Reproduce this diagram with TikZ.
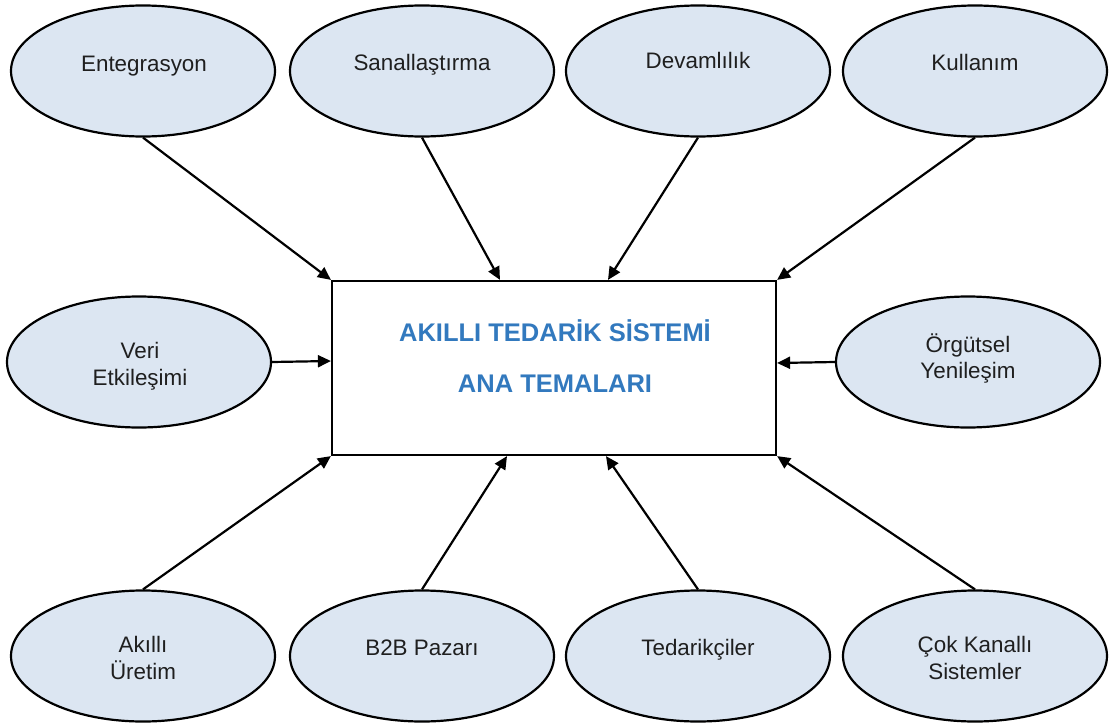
\documentclass[tikz,border=0pt]{standalone}
\usepackage{fontspec}
\setmainfont{Liberation Sans}
\usetikzlibrary{arrows.meta,shapes.geometric,calc}
\definecolor{ovalfill}{HTML}{DCE6F2}
\definecolor{titleblue}{HTML}{3279BE}
\begin{document}
\begin{tikzpicture}[x=1pt,y=-1pt,
  oval/.style={ellipse, draw=black, line width=2.2pt, fill=ovalfill, minimum width=264pt, minimum height=131pt, inner sep=0pt},
  lbl/.style={anchor=base, inner sep=0pt, font=\fontsize{22.4}{27}\selectfont, text=black!88},
  ttl/.style={anchor=base, inner sep=0pt, font=\bfseries\fontsize{25.5}{30}\selectfont, text=titleblue},
  mainbox/.style={draw=black, line width=2.2pt, fill=white, minimum width=444pt, minimum height=174pt, inner sep=0pt},
  conn/.style={line width=2.2pt, -{Triangle[length=13pt,width=12pt]}}]
\useasboundingbox (0,0) rectangle (1114,728);
\fill[white] (0,0) rectangle (1114,728);

% central box
\node[mainbox] (box) at (554,368) {};
\node[ttl] (t1) at (555,341) {AKILLI TEDARİK SİSTEMİ};
\node[ttl] (t2) at (555,392) {ANA TEMALARI};

% ellipses
\node[oval] (e1) at (143,71) {};
\node[oval] (e2) at (422,71) {};
\node[oval] (e3) at (698,71) {};
\node[oval] (e4) at (975,71) {};
\node[oval] (e5) at (139,362) {};
\node[oval] (e6) at (968,362) {};
\node[oval] (e7) at (143,656) {};
\node[oval] (e8) at (422,656) {};
\node[oval] (e9) at (698,656) {};
\node[oval] (e10) at (975,656) {};

% labels
\node[lbl] (l1) at (144,71) {Entegrasyon};
\node[lbl] (l2) at (422,70) {Sanallaştırma};
\node[lbl] (l3) at (698,68) {Devamlılık};
\node[lbl] (l4) at (975,70) {Kullanım};
\node[lbl] (l5a) at (140,358) {Veri};
\node[lbl] (l5b) at (140,385) {Etkileşimi};
\node[lbl] (l6a) at (968,352) {Örgütsel};
\node[lbl] (l6b) at (968,378) {Yenileşim};
\node[lbl] (l7a) at (143,652) {Akıllı};
\node[lbl] (l7b) at (143,679) {Üretim};
\node[lbl] (l8) at (422,655) {B2B Pazarı};
\node[lbl] (l9) at (698,655) {Tedarikçiler};
\node[lbl] (l10a) at (975,652) {Çok Kanallı};
\node[lbl] (l10b) at (975,679) {Sistemler};

% connectors
\draw[conn] (e1.south) -- (box.north west);
\draw[conn] (e2.south) -- ($(box.north)+(-54,0)$);
\draw[conn] (e3.south) -- ($(box.north)+(54,0)$);
\draw[conn] (e4.south) -- (box.north east);
\draw[conn] (e5.east) -- ($(box.west)+(0,-7)$);
\draw[conn] (e6.west) -- ($(box.east)+(0,-5)$);
\draw[conn] (e7.north) -- (box.south west);
\draw[conn] (e8.north) -- ($(box.south)+(-47,0)$);
\draw[conn] (e9.north) -- ($(box.south)+(52,0)$);
\draw[conn] (e10.north) -- (box.south east);
\end{tikzpicture}
\end{document}
